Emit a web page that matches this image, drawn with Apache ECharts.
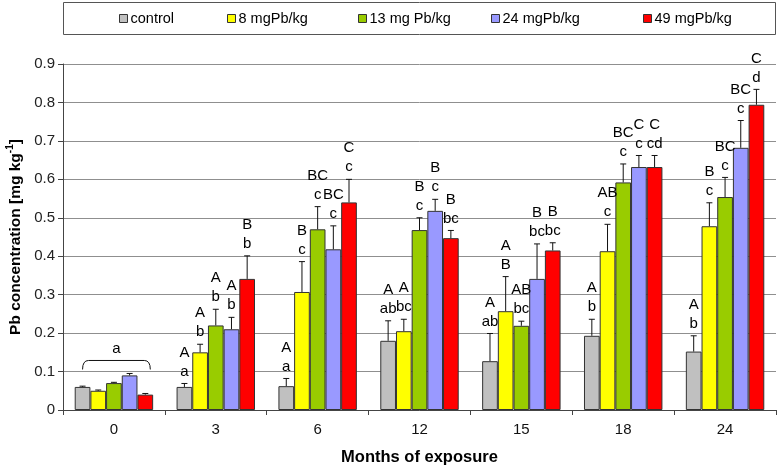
<!DOCTYPE html>
<html><head><meta charset="utf-8">
<script src="https://cdn.jsdelivr.net/npm/echarts@6/dist/echarts.min.js"></script>
<style>html,body{margin:0;padding:0;background:#fff}#c{width:777px;height:467px}</style>
</head><body><div id="c"></div>
<script>
const categories = ['0', '3', '6', '12', '15', '18', '24'];
const seriesNames = ['control', '8 mgPb/kg', '13 mg Pb/kg', '24 mgPb/kg', '49 mgPb/kg'];
const colors = ['#C0C0C0', '#FFFF00', '#99CC00', '#9999FF', '#FF0000'];

const control = [0.060, 0.060, 0.062, 0.180, 0.127, 0.193, 0.152];
const mg8     = [0.050, 0.150, 0.307, 0.205, 0.257, 0.413, 0.478];
const mg13    = [0.070, 0.220, 0.470, 0.468, 0.219, 0.592, 0.554];
const mg24    = [0.090, 0.210, 0.418, 0.518, 0.341, 0.632, 0.682];
const mg49    = [0.040, 0.341, 0.540, 0.447, 0.415, 0.632, 0.794];

const errControl = [0.002, 0.009, 0.020, 0.052, 0.072, 0.043, 0.041];
const err8       = [0.002, 0.021, 0.079, 0.031, 0.090, 0.070, 0.061];
const err13      = [0.002, 0.042, 0.059, 0.032, 0.012, 0.048, 0.051];
const err24      = [0.005, 0.031, 0.061, 0.030, 0.091, 0.030, 0.071];
const err49      = [0.003, 0.060, 0.060, 0.020, 0.020, 0.030, 0.040];

const upControl = ['', 'A', 'A', 'A', 'A', 'A', 'A'];
const loControl = ['', 'a', 'a', 'ab', 'ab', 'b', 'b'];
const up8  = ['', 'A', 'B', 'A', 'A', 'AB', 'B'];
const lo8  = ['', 'b', 'c', 'bc', 'B', 'c', 'c'];
const up13 = ['', 'A', 'BC', 'B', 'AB', 'BC', 'BC'];
const lo13 = ['', 'b', 'c', 'c', 'bc', 'c', 'c'];
const up24 = ['', 'A', 'BC', 'B', 'B', 'C', 'BC'];
const lo24 = ['', 'b', 'c', 'c', 'bc', 'c', 'c'];
const up49 = ['', 'B', 'C', 'B', 'B', 'C', 'C'];
const lo49 = ['', 'b', 'c', 'bc', 'bc', 'cd', 'd'];
const groupZeroLetter = 'a';

const yTicks = [0, 0.1, 0.2, 0.3, 0.4, 0.5, 0.6, 0.7, 0.8, 0.9];

const vals = [control, mg8, mg13, mg24, mg49];
const errs = [errControl, err8, err13, err24, err49];
const ups = [upControl, up8, up13, up24, up49];
const los = [loControl, lo8, lo13, lo24, lo49];

const GAP = 0.23;
const FONT = 'Arial, "Liberation Sans", sans-serif';

const errData = [];
for (let s = 0; s < 5; s++) for (let c = 0; c < categories.length; c++) errData.push([c, vals[s][c] + errs[s][c], s]);

function barX(api, c, s) {
  const band = api.size([1, 0])[0];
  const inner = band * (1 - GAP);
  const bw = inner / 5;
  return api.coord([c, 0])[0] - inner / 2 + (s + 0.5) * bw;
}

const chart = echarts.init(document.getElementById('c'), null, {renderer: 'canvas'});
const legendX = [119, 227, 358, 491, 643];

const option = {
  animation: false,
  textStyle: {fontFamily: FONT},
  graphic: [{type: 'rect', shape: {x: 63.5, y: 2.5, width: 712, height: 32}, style: {fill: 'none', stroke: '#555', lineWidth: 1}}],
  legend: seriesNames.map((n, i) => ({
    data: [n], left: legendX[i], top: 11, padding: 0, itemWidth: 8, itemHeight: 8, itemGap: 0,
    icon: 'rect', itemStyle: {borderColor: '#333', borderWidth: 1},
    textStyle: {fontSize: 14.5, color: '#000', fontFamily: FONT, padding: [0, 0, 0, -2]}
  })),
  grid: {left: 63, right: 1, top: 64, bottom: 57, containLabel: false, outerBoundsMode: 'none'},
  xAxis: {
    type: 'category', data: categories,
    name: 'Months of exposure', nameLocation: 'middle', nameGap: 39,
    nameTextStyle: {fontSize: 16.5, fontWeight: 'bold', color: '#000', fontFamily: FONT},
    axisLine: {lineStyle: {color: '#444', width: 1}},
    axisTick: {show: true, length: 5, alignWithLabel: false, lineStyle: {color: '#444'}},
    axisLabel: {fontSize: 15, color: '#111', margin: 12, fontFamily: FONT}
  },
  yAxis: {
    type: 'value', min: yTicks[0], max: yTicks[yTicks.length - 1], interval: 0.1,
    name: '{a|Pb concentration [mg kg}{s|-1}{a|]}', nameLocation: 'middle', nameGap: 35,
    nameTextStyle: {
      color: '#000', fontFamily: FONT, padding: [0, 0, 0, 0],
      rich: {
        a: {fontSize: 15.5, fontWeight: 'bold', lineHeight: 20, color: '#000', fontFamily: FONT},
        s: {fontSize: 10, fontWeight: 'bold', lineHeight: 20, verticalAlign: 'top', padding: [0, 0, 8, 0], color: '#000', fontFamily: FONT}
      }
    },
    axisLine: {show: true, lineStyle: {color: '#444', width: 1}},
    axisTick: {show: true, length: 5, lineStyle: {color: '#444'}},
    axisLabel: {fontSize: 15, color: '#222', margin: 8, fontFamily: FONT, formatter: v => v === 0 ? '0' : v.toFixed(1)},
    splitLine: {show: true, lineStyle: {color: '#8f8f8f', width: 1}}
  },
  series: seriesNames.map((n, i) => ({
    name: n, type: 'bar', data: vals[i], barGap: '0%', barCategoryGap: (GAP * 100) + '%',
    itemStyle: {color: colors[i], borderColor: '#333', borderWidth: 1}, z: 2
  })).concat([{
    type: 'custom', name: 'err', z: 5, data: errData, encode: {x: 0, y: 1},
    renderItem: function (params, api) {
      const c = api.value(0), s = api.value(2);
      const x = barX(api, c, s);
      const y0 = api.coord([c, vals[s][c]])[1];
      const y1 = api.coord([c, vals[s][c] + errs[s][c]])[1];
      const ch = [
        {type: 'line', shape: {x1: x, y1: y0, x2: x, y2: y1}, style: {stroke: '#111', lineWidth: 1}},
        {type: 'line', shape: {x1: x - 3, y1: y1, x2: x + 3, y2: y1}, style: {stroke: '#111', lineWidth: 1}}
      ];
      const txt = (t, yy) => ({type: 'text', style: {text: t, x: x, y: yy, align: 'center', verticalAlign: 'middle', fontSize: 15, fontFamily: FONT, fill: '#000'}});
      if (los[s][c]) ch.push(txt(los[s][c], y1 - 12));
      if (ups[s][c]) ch.push(txt(ups[s][c], y1 - 31));
      return {type: 'group', children: ch};
    }
  }, {
    type: 'custom', name: 'bracket', z: 5, data: [[0, 0]], encode: {x: 0, y: 1},
    renderItem: function (params, api) {
      const c = 0;
      let maxTop = 0;
      for (let s = 0; s < 5; s++) maxTop = Math.max(maxTop, vals[s][c] + errs[s][c]);
      const ym = api.coord([c, maxTop])[1];
      const xa = barX(api, c, 0), xb = barX(api, c, 4) + 5;
      const yl = ym - 13, ye = ym - 4;
      return {type: 'group', children: [
        {type: 'path', shape: {pathData: `M${xa},${ye} Q${xa},${yl} ${xa + 6},${yl} L${xb - 6},${yl} Q${xb},${yl} ${xb},${ye}`}, style: {stroke: '#111', fill: 'none', lineWidth: 1}},
        {type: 'text', style: {text: groupZeroLetter, x: (xa + xb) / 2, y: yl - 12, align: 'center', verticalAlign: 'middle', fontSize: 15, fontFamily: FONT, fill: '#000'}}
      ]};
    }
  }])
};
chart.setOption(option);
</script>
</body></html>
